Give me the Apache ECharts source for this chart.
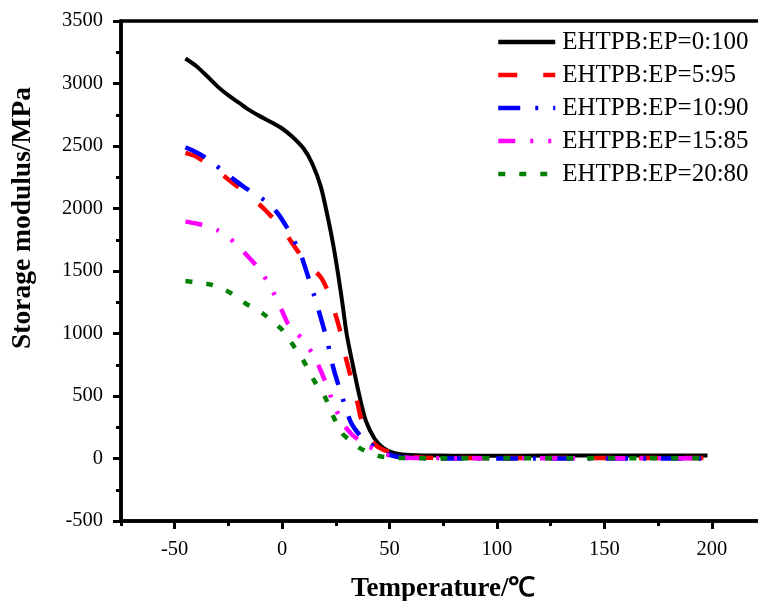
<!DOCTYPE html>
<html>
<head>
<meta charset="utf-8">
<script src="https://cdn.jsdelivr.net/npm/echarts@6/dist/echarts.min.js"></script>
<style>
html, body { margin: 0; padding: 0; background: #fff; }
#chart { width: 758px; height: 601px; }
</style>
</head>
<body>
<div id="chart"></div>
<script>
// sample names (legend order)
var names = ['EHTPB:EP=0:100', 'EHTPB:EP=5:95', 'EHTPB:EP=10:90', 'EHTPB:EP=15:85', 'EHTPB:EP=20:80'];
var xTicks = [-50, 0, 50, 100, 150, 200];

// temperature (°C) / storage modulus (MPa)
var t0 = [-45, -40, -35, -30, -25, -20, -15, -10, -5, 0, 5, 10, 14, 18, 21.5, 24, 26, 28, 30, 33, 36, 39, 43, 47, 52, 58, 65, 80, 110, 140, 170, 198];
var e0 = [3200, 3140, 3060, 2975, 2905, 2845, 2785, 2735, 2690, 2640, 2570, 2480, 2360, 2175, 1910, 1690, 1480, 1250, 1000, 740, 500, 300, 160, 85, 45, 30, 25, 23, 23, 24, 24, 24];

var t1 = [-45, -40, -30, -23, -15, -8, 0, 7, 12, 18, 21, 24, 27, 29, 32, 35, 37, 40, 43, 47, 52, 56, 60, 70, 100, 130, 160, 190, 198];
var e1 = [2445, 2415, 2300, 2205, 2100, 1990, 1840, 1665, 1560, 1450, 1350, 1200, 1020, 850, 650, 450, 300, 190, 115, 70, 45, 25, 12, 5, 4, 4, 4, 4, 4];

var t2 = [-45, -40, -35, -29, -23, -18, -12, -7, -2, 2, 5, 8.5, 12, 15, 17, 21, 24, 28, 32, 36, 40, 45, 50, 55, 60, 80, 110, 140, 170, 200];
var e2 = [2490, 2450, 2400, 2320, 2240, 2175, 2110, 2050, 1960, 1855, 1760, 1640, 1460, 1300, 1185, 940, 715, 490, 290, 190, 130, 65, 30, 10, 3, 0, 0, 0, 0, 0];

var t3 = [-45, -40, -35, -30, -25, -20, -15, -10, -5, 0, 3, 7, 10, 15, 20, 24, 28, 32, 36, 40, 45, 50, 55, 60, 80, 110, 140, 170, 198];
var e3 = [1895, 1880, 1860, 1825, 1770, 1690, 1600, 1500, 1360, 1180, 1070, 1000, 940, 815, 620, 435, 290, 200, 145, 100, 55, 25, 10, 4, 3, 3, 3, 3, 3];

var t4 = [-45, -40, -33, -28, -24, -17, -9, -4, 0, 5, 10, 15, 20, 24, 28, 32, 36, 40, 45, 50, 55, 60, 80, 110, 140, 170, 198];
var e4 = [1420, 1410, 1390, 1360, 1325, 1240, 1160, 1090, 1030, 910, 780, 620, 490, 330, 200, 140, 85, 50, 20, 8, 4, 3, 3, 3, 3, 3, 3];

var temps = [t0, t1, t2, t3, t4];
var moduli = [e0, e1, e2, e3, e4];
var colors = ['#000000', '#ff0000', '#0000ff', '#ff00ff', '#008000'];
var dashes = ['solid', [19, 26], [22, 15, 3, 15], [17, 15, 3, 15, 3, 15], [7, 14]];

var serif = 'Liberation Serif, Times New Roman, serif';

function pairs(xs, ys) {
  var out = [];
  for (var i = 0; i < xs.length; i++) out.push([xs[i], ys[i]]);
  return out;
}

var series = [];
for (var i = 0; i < names.length; i++) {
  series.push({
    name: names[i],
    type: 'line',
    smooth: 0.25,
    symbol: 'none',
    data: pairs(temps[i], moduli[i]),
    lineStyle: { color: colors[i], width: i === 0 ? 4 : 4.5, type: dashes[i] },
    itemStyle: { color: colors[i] }
  });
}

var axisFont = { fontFamily: serif, fontSize: 20.5, color: '#000' };

var myChart = echarts.init(document.getElementById('chart'));
var option = {
  animation: false,
  grid: {
    left: 121, top: 21, right: -7.5, bottom: 80,
    containLabel: false,
    outerBoundsMode: 'none',
    show: true, borderColor: '#000', borderWidth: 3.5
  },
  legend: {
    orient: 'vertical',
    left: 496,
    top: 29,
    padding: 0,
    itemWidth: 57,
    itemHeight: 14,
    itemGap: 7,
    data: names,
    itemStyle: { opacity: 0 },
    lineStyle: { width: 4.5 },
    textStyle: { fontFamily: serif, fontSize: 25, color: '#000', lineHeight: 26, padding: [0, 0, 0, 2] }
  },
  xAxis: [{
    // minor ticks every 25 + axis line + name
    type: 'value',
    min: -75, max: 225, interval: 25,
    name: 'Temperature/℃',
    nameLocation: 'middle',
    nameGap: 55,
    nameTextStyle: { fontFamily: serif, fontSize: 27, fontWeight: 'bold', color: '#000' },
    splitLine: { show: false },
    axisLine: { onZero: false, lineStyle: { color: '#000', width: 3.5 } },
    axisTick: { length: 5, lineStyle: { width: 3 } },
    axisLabel: { show: false }
  }, {
    // major ticks and labels
    type: 'value',
    position: 'bottom',
    min: -75, max: 225,
    splitLine: { show: false },
    axisLine: { show: false, onZero: false },
    axisTick: { length: 8, customValues: xTicks, lineStyle: { color: '#000', width: 3 } },
    axisLabel: Object.assign({ margin: 18, customValues: xTicks }, axisFont)
  }],
  yAxis: {
    type: 'value',
    min: -500, max: 3500, interval: 500,
    splitLine: { show: false },
    axisLine: { onZero: false, lineStyle: { color: '#000', width: 3.5 } },
    axisTick: { length: 8, lineStyle: { width: 3 } },
    minorTick: { show: true, splitNumber: 2, length: 5, lineStyle: { color: '#000', width: 3 } },
    axisLabel: Object.assign({ margin: 18, formatter: function (v) { return String(v); } }, axisFont)
  },
  graphic: [{
    type: 'text',
    x: 23, y: 218,
    rotation: Math.PI / 2,
    style: {
      text: 'Storage modulus/MPa',
      font: 'bold 27.5px ' + serif,
      fill: '#000',
      align: 'center',
      verticalAlign: 'middle'
    }
  }],
  series: series
};
myChart.setOption(option);
</script>
</body>
</html>
